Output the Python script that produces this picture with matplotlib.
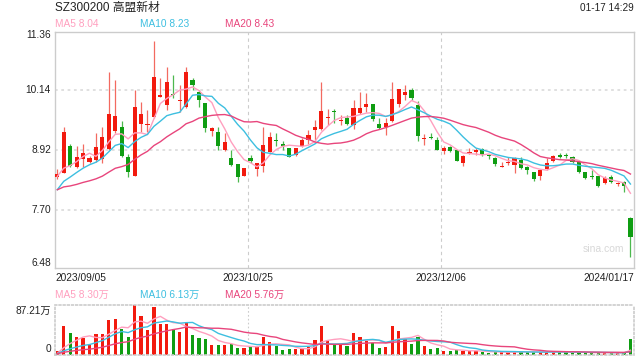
import numpy as np
import pandas as pd
import matplotlib
matplotlib.use('Agg')
import matplotlib.pyplot as plt

plt.rcParams['font.family'] = ['Liberation Sans', 'Noto Sans CJK SC']

## Data (one candle per trading day, 2023/09/05 - 2024/01/17)
opens = [8.38, 8.46, 9.00, 8.57, 8.74, 8.68, 8.72, 8.73, 8.95, 9.31,
         9.38, 8.77, 8.40, 9.44, 9.43, 9.60, 10.00, 9.83, 10.05, 9.91,
         9.79, 10.34, 10.10, 9.88, 9.31, 9.29, 8.91, 8.76, 8.63, 8.39,
         8.76, 8.53, 8.59, 8.88, 9.12, 9.05, 8.96, 8.82, 9.01, 9.12,
         9.33, 9.35, 9.58, 9.70, 9.50, 9.58, 9.43, 9.67, 9.80, 9.85,
         9.44, 9.38, 9.50, 9.85, 10.03, 10.14, 9.83, 9.14, 9.18, 9.12,
         8.89, 8.99, 8.91, 8.66, 8.86, 8.87, 8.95, 8.80, 8.75, 8.58,
         8.66, 8.61, 8.72, 8.57, 8.48, 8.39, 8.53, 8.70, 8.82, 8.81,
         8.78, 8.68, 8.48, 8.38, 8.39, 8.25, 8.38, 8.22, 8.27, 7.53]
highs = [8.53, 9.38, 9.04, 9.00, 9.04, 8.80, 9.26, 9.39, 10.51, 10.34,
         9.50, 8.84, 10.15, 9.90, 9.73, 11.14, 10.38, 10.61, 10.44, 10.24,
         10.61, 10.38, 10.14, 9.88, 9.39, 9.39, 9.26, 8.92, 8.63, 8.55,
         8.81, 8.66, 9.38, 9.29, 9.26, 9.11, 8.97, 8.97, 9.16, 9.33,
         9.53, 10.30, 9.75, 9.75, 9.63, 9.63, 9.94, 10.09, 10.07, 9.85,
         9.58, 9.58, 10.30, 10.16, 10.24, 10.19, 9.92, 9.24, 9.27, 9.18,
         9.00, 9.00, 8.91, 8.82, 8.97, 8.97, 8.97, 8.84, 8.78, 8.68,
         8.77, 8.78, 8.77, 8.59, 8.48, 8.53, 8.75, 8.82, 8.86, 8.85,
         8.80, 8.72, 8.48, 8.51, 8.39, 8.39, 8.41, 8.27, 8.29, 7.56]
lows = [8.34, 8.45, 8.57, 8.55, 8.58, 8.65, 8.68, 8.65, 8.93, 9.27,
        8.78, 8.38, 8.40, 9.29, 9.29, 9.58, 10.00, 9.73, 9.97, 9.70,
        9.77, 10.14, 9.80, 9.29, 9.20, 8.93, 8.89, 8.59, 8.27, 8.39,
        8.66, 8.39, 8.48, 8.87, 9.00, 8.93, 8.77, 8.80, 8.99, 9.05,
        9.12, 9.33, 9.43, 9.46, 9.43, 9.43, 9.34, 9.65, 9.70, 9.50,
        9.34, 9.22, 9.49, 9.80, 9.94, 9.94, 9.11, 9.02, 9.14, 8.91,
        8.84, 8.87, 8.70, 8.59, 8.83, 8.82, 8.80, 8.74, 8.59, 8.58,
        8.61, 8.46, 8.53, 8.43, 8.28, 8.30, 8.51, 8.68, 8.75, 8.75,
        8.66, 8.46, 8.34, 8.34, 8.17, 8.23, 8.25, 8.19, 8.07, 6.75]
closes = [8.43, 9.29, 8.59, 8.78, 8.85, 8.76, 8.98, 9.18, 9.66, 9.62,
          8.80, 8.47, 9.79, 9.66, 9.45, 10.40, 10.03, 10.30, 10.04, 9.92,
          10.51, 10.24, 9.94, 9.37, 9.36, 9.00, 9.08, 8.61, 8.38, 8.55,
          8.69, 8.66, 9.02, 9.18, 9.10, 9.01, 8.78, 8.96, 9.12, 9.22,
          9.38, 9.71, 9.60, 9.69, 9.51, 9.45, 9.77, 9.77, 9.85, 9.56,
          9.37, 9.46, 9.95, 10.16, 10.09, 9.97, 9.20, 9.15, 9.17, 8.93,
          8.97, 8.90, 8.70, 8.80, 8.87, 8.91, 8.82, 8.79, 8.63, 8.60,
          8.67, 8.75, 8.55, 8.51, 8.32, 8.51, 8.66, 8.80, 8.77, 8.80,
          8.68, 8.48, 8.36, 8.37, 8.19, 8.36, 8.27, 8.23, 8.19, 7.15]
# volume in 万
volumes = [7, 50.6, 38.4, 30.8, 29.7, 17.4, 36.6, 36.6, 61, 62.8,
           45.9, 31.4, 87.21, 68, 44.2, 83.7, 54, 54, 45.9, 40.1,
           55.8, 34.9, 29, 27.9, 17.4, 17.4, 17.4, 19.2, 12.2, 12.2,
           14, 14, 31.4, 22.7, 15.7, 8.7, 10.5, 10.5, 10.5, 14,
           26.2, 50.6, 26.2, 19.2, 19.2, 15.7, 38.4, 31.4, 24.4, 20.9,
           12.2, 14, 50.6, 41.9, 27.9, 19.2, 31.4, 15.7, 10.5, 12.2,
           7, 7, 8.7, 7, 7, 7, 5.2, 3.5, 5.2, 5.2,
           5.5, 5.5, 5.5, 5.0, 5.0, 5.0, 5.5, 5.5, 5.5, 5.9,
           3.6, 4.5, 3.6, 3.6, 4.5, 3.4, 3.4, 3.4, 3.4, 27.9]
# closes / volumes before the window, only feed the moving averages at the left edge
prev_closes = [8.12, 8.20, 8.15, 8.05, 8.10, 8.18, 8.08, 8.02, 8.06, 8.13,
               7.59, 7.72, 7.85, 7.98, 8.06, 8.47, 8.32, 8.38, 8.33]
prev_volumes = [2, 2, 2, 2, 2, 2, 2, 2, 2, 2, 2, 2, 2, 2, 2, 2, 2, 2, 2]

date_labels = ['2023/09/05', '2023/10/25', '2023/12/06', '2024/01/17']
price_ticks = [11.36, 10.14, 8.92, 7.70, 6.48]

RED = '#f21a0e'
GREEN = '#0f9d12'
RED_W = '#f36a60'
GREEN_W = '#4cb84e'
C5 = '#ff9fbf'
C10 = '#3dbfe0'
C20 = '#e8457c'

n = len(closes)
x = np.arange(n)
o = np.array(opens); h = np.array(highs); l = np.array(lows); c = np.array(closes)
up = c >= o
cols = np.where(up, RED, GREEN)
wcols = np.where(up, RED_W, GREEN_W)

allc = pd.Series(prev_closes + closes)
allv = pd.Series(prev_volumes + volumes)
k = len(prev_closes)
ma = {p: allc.rolling(p).mean().values[k:] for p in (5, 10, 20)}
vma = {p: allv.rolling(p).mean().values[k:] for p in (5, 10, 20)}

W, H = 640, 360
fig = plt.figure(figsize=(6.4, 3.6), dpi=100)

def rect(x0, y0, x1, y1):
    return [x0 / W, 1 - y1 / H, (x1 - x0) / W, (y1 - y0) / H]

def ftext(x, y, s, **kw):
    fig.text(x / W, 1 - y / H, s, va='center', **kw)

xlim = (-0.36, 89.55)
xg = [xlim[0] + (xlim[1] - xlim[0]) / 3, xlim[0] + 2 * (xlim[1] - xlim[0]) / 3]

## Price panel
ax = fig.add_axes(rect(55, 32, 634, 268))
ax.set_xlim(*xlim)
ax.set_ylim(6.52, 11.32)
for yv in price_ticks[1:4]:
    ax.axhline(yv, color='#dddddd', lw=1.3, ls=(0, (1.5, 2)), zorder=0)
for xv in xg:
    ax.axvline(xv, color='#cccccc', lw=0.8, ls=(0, (3, 3)), zorder=0)
ax.vlines(x, l, h, colors=wcols, lw=0.9, zorder=2)
body = np.maximum(np.abs(c - o), 0.02)
ax.bar(x, body, bottom=np.minimum(o, c), width=0.64, color=cols, zorder=3)
ax.plot(x, ma[5], color=C5, lw=1, zorder=4)
ax.plot(x, ma[10], color=C10, lw=1, zorder=4)
ax.plot(x, ma[20], color=C20, lw=1, zorder=4)
ax.set_xticks([]); ax.set_yticks([])
for s in ax.spines.values():
    s.set_color('#cccccc'); s.set_linewidth(1)

## Volume panel
axv = fig.add_axes(rect(55, 305, 634, 355))
axv.set_xlim(*xlim)
axv.set_ylim(0, 87.21)
for xv in xg:
    axv.axvline(xv, color='#cccccc', lw=0.8, ls=(0, (1.5, 2)), zorder=0)
axv.bar(x, volumes, width=0.5, color=cols, zorder=2)
axv.plot(x, vma[5], color=C5, lw=1, zorder=3)
axv.plot(x, vma[10], color=C10, lw=1, zorder=3)
axv.plot(x, vma[20], color=C20, lw=1, zorder=3)
axv.set_xticks([]); axv.set_yticks([])
for s in axv.spines.values():
    s.set_color('#cccccc'); s.set_linewidth(1.2); s.set_linestyle((0, (1, 1.5)))

## Texts
ftext(55, 8, 'SZ300200 高盟新材', fontsize=8.5, color='#222222', ha='left')
ftext(634, 8, '01-17 14:29', fontsize=7.2, color='#222222', ha='right')
ftext(55, 24, 'MA5 %.2f' % ma[5][-1], fontsize=7.3, color=C5, ha='left')
ftext(140, 24, 'MA10 %.2f' % ma[10][-1], fontsize=7.3, color=C10, ha='left')
ftext(225, 24, 'MA20 %.2f' % ma[20][-1], fontsize=7.3, color=C20, ha='left')

ylab = [35, 90, 150, 210, 263]
for v, yy in zip(price_ticks, ylab):
    ftext(51, yy, '%.2f' % v, fontsize=7.3, color='#222222', ha='right')

ftext(55, 278, date_labels[0], fontsize=7.3, color='#222222', ha='left')
ftext(248, 278, date_labels[1], fontsize=7.3, color='#222222', ha='center')
ftext(441, 278, date_labels[2], fontsize=7.3, color='#222222', ha='center')
ftext(634, 278, date_labels[3], fontsize=7.3, color='#222222', ha='right')

ftext(55, 295, 'MA5 %.2f万' % vma[5][-1], fontsize=7.3, color=C5, ha='left')
ftext(140, 295, 'MA10 %.2f万' % vma[10][-1], fontsize=7.3, color=C10, ha='left')
ftext(225, 295, 'MA20 %.2f万' % vma[20][-1], fontsize=7.3, color=C20, ha='left')
ftext(51, 311, '%.2f万' % max(volumes), fontsize=7.3, color='#222222', ha='right')
ftext(51, 349, '0', fontsize=7.3, color='#222222', ha='right')

ftext(603, 249, 'sina.com', fontsize=7.5, color='#d8d8d8', ha='center')

fig.savefig('out.png', dpi=100)
